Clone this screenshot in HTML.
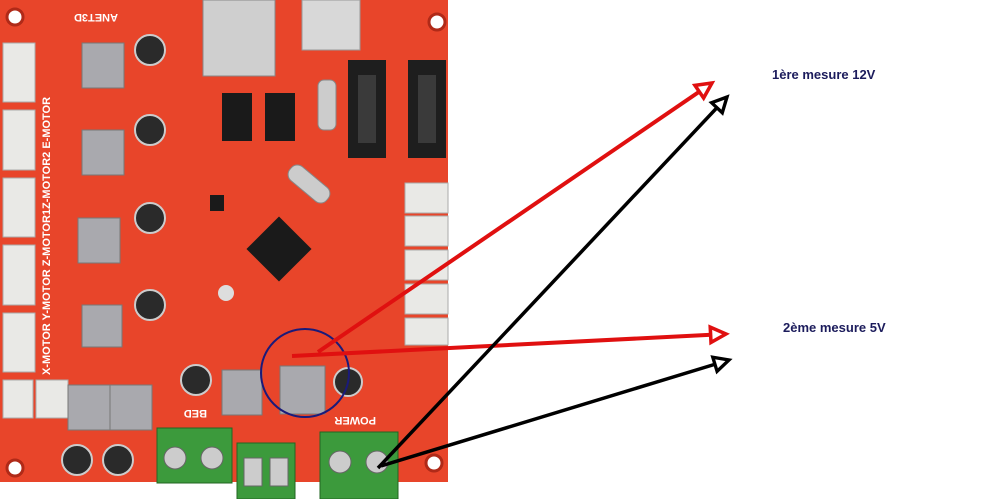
<!DOCTYPE html>
<html><head><style>
html,body{margin:0;padding:0;background:#fff;width:1000px;height:499px;overflow:hidden}
svg{position:absolute;left:0;top:0}
.t{font-family:"Liberation Sans",Arial,sans-serif;font-weight:bold;font-size:13px;fill:#1c1c5c}
.w{font-family:"Liberation Sans",Arial,sans-serif;font-weight:bold;font-size:11px;fill:#fff}
</style></head><body>
<svg width="1000" height="499" viewBox="0 0 1000 499">
<defs>
<marker id="mr" viewBox="0 0 10 10" refX="8" refY="5" markerWidth="5.5" markerHeight="5.5" orient="auto" markerUnits="strokeWidth"><path d="M1,1.5 L8,5 L1,8.5 Z" fill="#fff" stroke="#e01010" stroke-width="1.6"/></marker>
<marker id="mb" viewBox="0 0 10 10" refX="8" refY="5" markerWidth="6" markerHeight="6" orient="auto" markerUnits="strokeWidth"><path d="M1,1.5 L8,5 L1,8.5 Z" fill="#fff" stroke="#000" stroke-width="1.6"/></marker>
</defs>
<rect x="0" y="0" width="448" height="482" fill="#e8452a"/>
<g fill="#fff" stroke="#b02a18" stroke-width="3">
<circle cx="15" cy="17" r="8"/><circle cx="437" cy="22" r="8"/><circle cx="15" cy="468" r="8"/><circle cx="434" cy="463" r="8"/></g>
<g fill="#e9e9e6" stroke="#aaa">
<rect x="3" y="43" width="32" height="59"/><rect x="3" y="110" width="32" height="60"/><rect x="3" y="178" width="32" height="59"/><rect x="3" y="245" width="32" height="60"/><rect x="3" y="313" width="32" height="59"/>
<rect x="3" y="380" width="30" height="38"/><rect x="36" y="380" width="32" height="38"/>
<rect x="405" y="183" width="43" height="30"/><rect x="405" y="216" width="43" height="30"/><rect x="405" y="250" width="43" height="30"/><rect x="405" y="284" width="43" height="30"/><rect x="405" y="318" width="43" height="27"/>
</g>
<text class="w" x="92" y="22" transform="rotate(180 105 18)">ANET3D</text>
<text class="w" x="0" y="0" transform="translate(50 375) rotate(-90)">X-MOTOR  Y-MOTOR  Z-MOTOR1Z-MOTOR2 E-MOTOR</text>
<rect x="203" y="0" width="72" height="76" fill="#cfcfcf" stroke="#888"/>
<rect x="302" y="0" width="58" height="50" fill="#d8d8d8" stroke="#999"/>
<rect x="348" y="60" width="38" height="98" fill="#1e1e1e"/><rect x="408" y="60" width="38" height="98" fill="#1e1e1e"/>
<rect x="358" y="75" width="18" height="68" fill="#3a3a3a"/><rect x="418" y="75" width="18" height="68" fill="#3a3a3a"/>
<rect x="222" y="93" width="30" height="48" fill="#1a1a1a"/><rect x="265" y="93" width="30" height="48" fill="#1a1a1a"/>
<rect x="318" y="80" width="18" height="50" rx="6" fill="#ccc" stroke="#888"/>
<rect x="285" y="175" width="48" height="18" rx="8" fill="#ccc" stroke="#888" transform="rotate(40 309 184)"/>
<rect x="256" y="226" width="46" height="46" fill="#1a1a1a" transform="rotate(45 279 249)"/>
<rect x="210" y="195" width="14" height="16" fill="#1a1a1a"/>
<g fill="#a9a9ae" stroke="#777">
<rect x="82" y="43" width="42" height="45"/><rect x="82" y="130" width="42" height="45"/><rect x="78" y="218" width="42" height="45"/><rect x="82" y="305" width="40" height="42"/>
<rect x="68" y="385" width="42" height="45"/><rect x="110" y="385" width="42" height="45"/><rect x="222" y="370" width="40" height="45"/><rect x="280" y="366" width="45" height="48"/>
</g>
<g fill="#2a2a2a" stroke="#ccc" stroke-width="2">
<circle cx="150" cy="50" r="15"/><circle cx="150" cy="130" r="15"/><circle cx="150" cy="218" r="15"/><circle cx="150" cy="305" r="15"/><circle cx="196" cy="380" r="15"/><circle cx="348" cy="382" r="14"/><circle cx="77" cy="460" r="15"/><circle cx="118" cy="460" r="15"/></g>
<circle cx="226" cy="293" r="8" fill="#ddd"/>
<text class="w" x="185" y="418" transform="rotate(180 196 414)">BED</text>
<text class="w" x="336" y="425" transform="rotate(180 356 421)">POWER</text>
<g fill="#3c9a3c" stroke="#226622">
<rect x="157" y="428" width="75" height="55"/><rect x="237" y="443" width="58" height="56"/><rect x="320" y="432" width="78" height="67"/></g>
<g fill="#ccc" stroke="#666">
<circle cx="175" cy="458" r="11"/><circle cx="212" cy="458" r="11"/><circle cx="340" cy="462" r="11"/><circle cx="377" cy="462" r="11"/>
<rect x="244" y="458" width="18" height="28"/><rect x="270" y="458" width="18" height="28"/></g>
<circle cx="305" cy="373" r="44" fill="none" stroke="#1a1a7a" stroke-width="2"/>
<line x1="318" y1="352" x2="712" y2="83" stroke="#e01010" stroke-width="4" marker-end="url(#mr)"/>
<line x1="292" y1="356" x2="726" y2="334" stroke="#e01010" stroke-width="4" marker-end="url(#mr)"/>
<line x1="378" y1="468" x2="727" y2="97" stroke="#000" stroke-width="3.5" marker-end="url(#mb)"/>
<line x1="381" y1="466" x2="729" y2="360" stroke="#000" stroke-width="3.5" marker-end="url(#mb)"/>
<text class="t" x="772" y="79">1ère mesure 12V</text>
<text class="t" x="783" y="332">2ème mesure 5V</text>
</svg>
</body></html>
